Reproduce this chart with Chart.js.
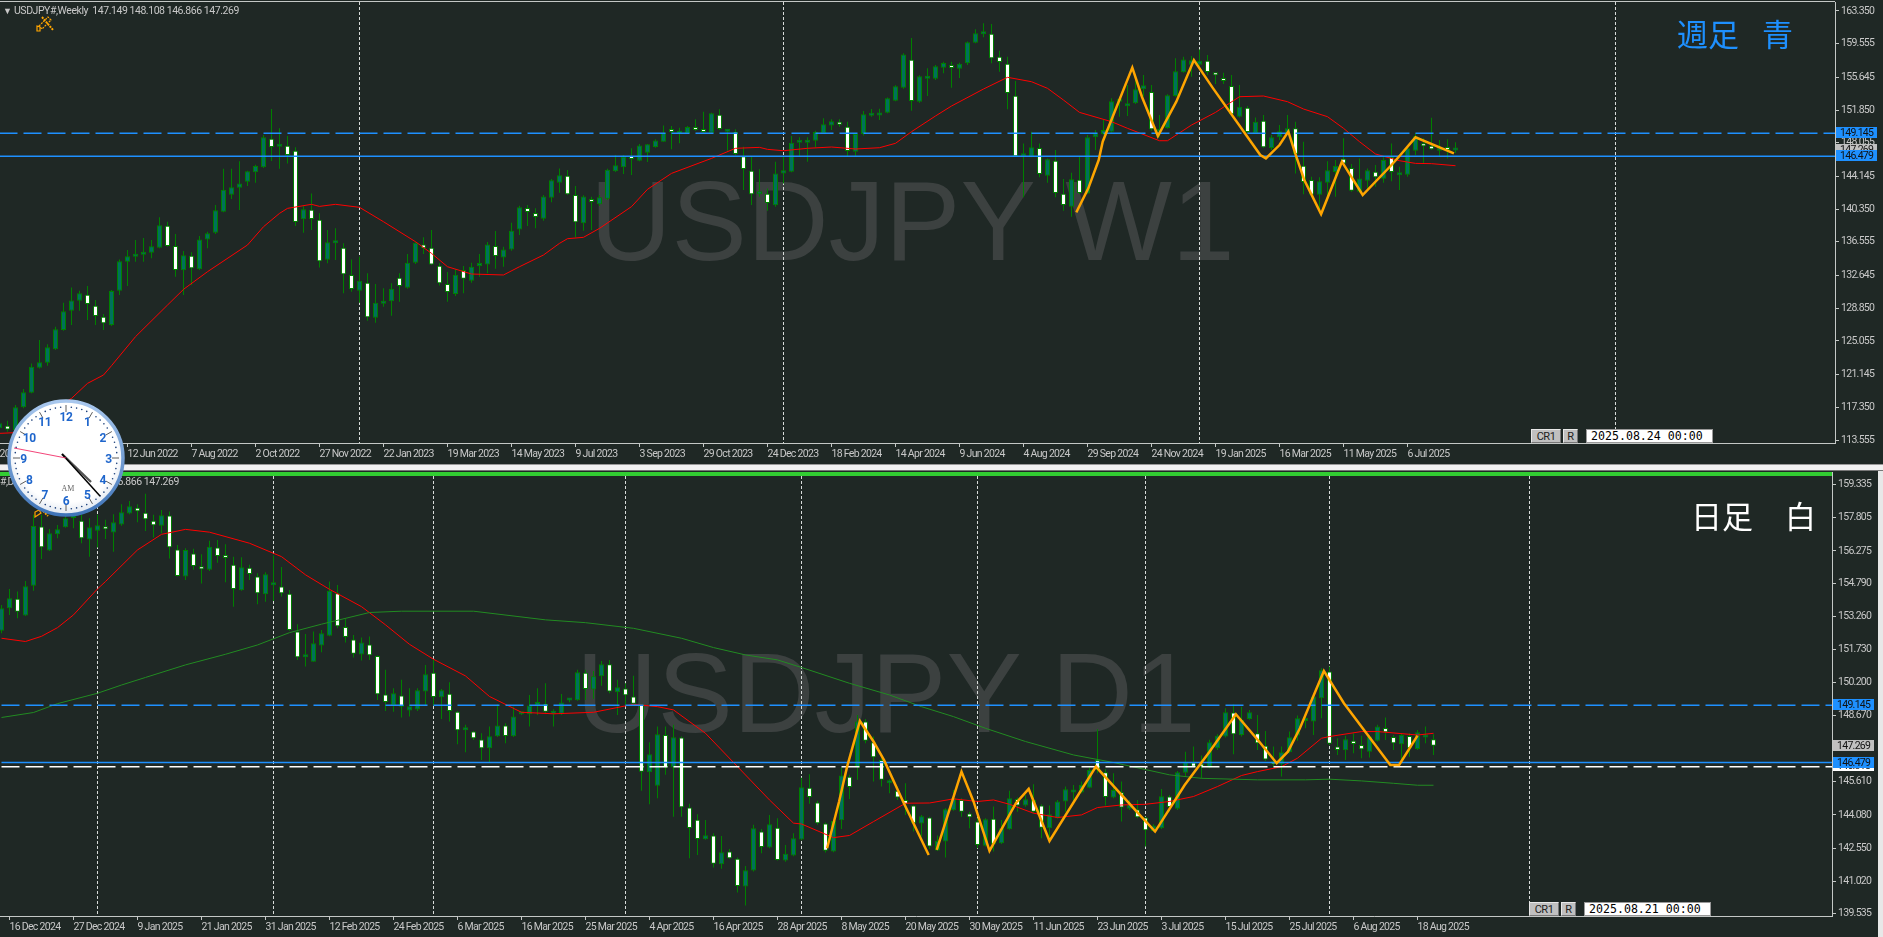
<!DOCTYPE html>
<html>
<head>
<meta charset="utf-8">
<style>
  html, body { margin: 0; padding: 0; width: 1883px; height: 937px; overflow: hidden; background: #1f2825; }
  canvas { position: absolute; left: 0; z-index: 1; }
  .t { position: absolute; white-space: pre; z-index: 2; font: 10.5px Roboto, sans-serif; letter-spacing: -0.7px; color: #c8c8c8; }
  .mark { position: absolute; white-space: pre; z-index: 0; font: 113px/113px 'Liberation Sans', Arial, sans-serif; color: #3c4140; }
  .jp { position: absolute; white-space: pre; z-index: 2; font: 31px/36px 'Noto Sans CJK JP', sans-serif; }
  .btn { position: absolute; z-index: 2; height: 14px; background: #c0c0c0; color: #222; text-align: center; font: 11px/14px Roboto, sans-serif; letter-spacing: -0.5px; box-sizing: border-box; border: 1px solid #e8e8e8; border-right-color: #777; border-bottom-color: #777; }
  .date { position: absolute; z-index: 2; height: 14px; width: 127px; background: #fff; color: #000; box-sizing: border-box; padding-left: 4px; border: 1px solid #999; font: 11.6px/13px 'DejaVu Sans Mono', monospace; }
  .bar { position: absolute; z-index: 2; }
  svg { position: absolute; z-index: 5; }
</style>
</head>
<body>
<div class="mark" style="left:590px;top:165px">USDJPY W1</div>
<div class="mark" style="left:576px;top:637px">USDJPY D1</div>
<canvas id="weekChart" style="top:0" width="1883" height="465"></canvas>
<canvas id="dayChart" style="top:465px" width="1883" height="472"></canvas>

<div class="bar" style="left:0;top:1px;width:1835px;height:1px;background:#c4c8c6"></div>
<div class="bar" style="left:0;top:464px;width:1883px;height:7px;background:#f2f2f2;border-top:1px solid #9a9a9a;border-bottom:1px solid #777;box-sizing:border-box"></div>
<div class="bar" style="left:0;top:472px;width:1832px;height:4px;background:#32cd32"></div>
<div class="bar" style="left:1878px;top:471px;width:5px;height:466px;background:#e8e8e8"></div>

<div class="t" style="left:3px;top:6px;font-size:9px">▼</div>
<div class="t" style="left:14px;top:4px;letter-spacing:-0.45px">USDJPY#,Weekly  147.149 148.108 146.866 147.269</div>
<div class="t" style="left:-36px;top:475px;letter-spacing:-0.45px">USDJPY#,Daily  147.570 147.800 146.866 147.269</div>
<div class="jp" style="left:1677px;top:15px;color:#1e90ff">週足</div>
<div class="jp" style="left:1762px;top:15px;color:#1e90ff">青</div>
<div class="jp" style="left:1691px;top:497px;color:#fff">日足</div>
<div class="jp" style="left:1785px;top:497px;color:#fff">白</div>

<div class="btn" style="left:1531px;top:429px;width:30px">CR1</div>
<div class="btn" style="left:1563px;top:429px;width:15px">R</div>
<div class="date" style="left:1586px;top:429px">2025.08.24 00:00</div>
<div class="btn" style="left:1529px;top:902px;width:30px">CR1</div>
<div class="btn" style="left:1561px;top:902px;width:15px">R</div>
<div class="date" style="left:1584px;top:902px">2025.08.21 00:00</div>

<svg style="left:36px;top:15px;z-index:2" width="18" height="17" viewBox="0 0 18 17">
  <g stroke="#ffa500" fill="none" stroke-width="1.2">
    <path d="M1 16 L1 11 L4 12 L4 16 Z"/>
    <path d="M3 11 L12 2 L15 5 L6 14 Z" stroke-dasharray="2 1"/>
    <path d="M6 2 L17 15" stroke-dasharray="2 1" stroke-width="2"/>
  </g>
</svg>
<svg style="left:34px;top:509px;z-index:2" width="16" height="9" viewBox="0 0 16 9">
  <g stroke="#ffa500" fill="none" stroke-width="1.2"><path d="M1 8 L1 3 L5 1 L7 4 Z"/><path d="M9 2 L14 7" stroke-dasharray="2 1" stroke-width="2"/></g>
</svg>
<svg id="clock" style="left:0;top:392px" width="132" height="132" viewBox="0 0 132 132"></svg>

<script src="https://cdn.jsdelivr.net/npm/chart.js@4"></script>
<script>
// --- Weekly pane ---
const weeklyOpen = [
  114.91,115.22,114.72,117.35,119.05,121.95,122.53,124.08,126.32,128.57,
  129.73,130.42,129.15,127.87,126.90,130.89,134.25,134.83,135.06,135.30,
  135.88,138.43,136.07,133.25,134.95,133.36,136.84,137.62,140.06,142.03,
  142.84,143.54,144.62,145.20,148.53,147.60,147.71,147.13,139.17,140.29,
  139.13,134.48,136.38,135.88,132.71,130.89,131.81,127.75,129.38,129.65,
  132.40,131.23,134.14,136.26,135.88,133.79,131.66,130.50,133.29,132.05,
  133.75,133.94,136.07,134.75,135.68,138.00,140.48,139.90,139.24,141.68,
  143.42,144.23,141.99,138.70,141.41,140.91,141.56,144.74,145.20,146.28,
  145.97,146.90,147.56,148.18,149.53,149.03,149.18,149.76,149.42,149.22,
  151.31,149.34,149.34,146.48,144.81,142.07,142.14,140.79,144.50,144.70,
  148.06,148.06,148.29,149.15,150.07,150.38,149.92,147.02,149.07,151.20,
  151.23,151.54,152.94,154.45,157.70,152.82,155.49,155.49,156.77,157.00,
  156.65,157.27,159.67,160.64,160.71,158.04,157.23,153.52,146.48,146.44,
  147.44,144.23,145.97,142.14,140.64,143.77,142.18,148.68,149.07,149.34,
  152.82,152.28,152.63,154.25,153.94,149.34,149.76,153.48,156.23,157.12,
  157.12,157.58,156.07,155.57,154.64,151.08,152.12,149.15,150.62,147.44,
  148.68,149.22,149.73,145.39,143.73,142.03,143.42,144.66,146.21,145.12,
  142.38,143.65,144.70,143.88,146.40,144.27,144.35,147.13,147.87,147.71,
  147.13,147.52,147.149];
const weeklyHigh = [
  115.68,115.80,117.62,119.47,122.45,125.16,124.66,126.71,129.49,131.27,
  130.89,131.43,129.80,128.18,130.96,134.52,135.61,136.77,137.00,136.77,
  139.40,138.89,137.46,135.49,135.34,137.23,137.73,140.83,145.05,145.05,
  145.90,144.81,145.51,148.95,151.97,149.73,148.84,147.52,140.71,142.18,
  139.86,137.93,138.12,136.38,134.52,134.83,132.90,131.66,131.16,131.74,
  132.90,135.14,136.57,137.08,137.93,134.06,133.05,133.36,133.75,134.14,
  135.14,136.54,137.81,135.99,138.78,140.75,140.83,140.44,141.99,143.85,
  145.08,144.89,143.03,141.95,141.80,141.99,145.05,146.63,146.63,147.41,
  147.91,147.91,148.45,150.07,150.00,149.80,150.00,150.77,151.66,151.54,
  151.93,149.61,149.61,147.60,146.52,144.97,142.76,145.86,146.44,148.84,
  148.68,148.68,149.45,150.89,150.77,150.77,150.50,149.15,151.74,151.97,
  152.01,153.32,154.72,158.43,160.21,155.88,156.69,157.08,157.46,157.46,
  157.35,159.82,161.22,161.91,161.83,158.74,158.04,155.22,147.98,149.34,
  147.98,146.24,147.21,143.85,144.58,146.44,148.95,149.53,150.69,153.21,
  153.40,154.75,155.34,155.92,154.75,151.27,153.67,157.85,158.04,158.12,
  158.89,158.24,156.19,156.19,155.92,154.75,152.32,151.00,151.27,148.95,
  150.11,151.27,150.50,148.18,144.12,144.04,145.90,146.05,148.57,145.59,
  146.24,145.08,145.47,146.36,147.98,145.28,147.60,149.15,148.57,150.96,
  148.37,148.45,148.108];
const weeklyLow = [
  114.72,114.52,114.72,117.23,118.97,121.87,122.18,124.00,126.24,126.90,
  128.57,127.48,126.90,126.32,126.79,130.38,131.43,134.25,134.25,134.64,
  135.80,135.99,132.51,130.38,131.54,133.29,135.80,137.46,139.98,141.53,
  140.25,143.03,143.42,145.12,145.94,145.05,145.66,138.39,137.62,137.93,
  133.59,134.06,134.45,130.58,130.77,129.49,127.40,127.17,129.03,127.99,
  129.61,131.12,133.98,135.14,133.87,131.50,129.61,130.27,130.58,131.81,
  132.51,132.90,133.44,133.67,135.53,137.35,138.39,138.12,139.01,141.14,
  142.26,141.99,137.08,137.85,137.93,140.71,141.41,144.66,144.43,144.31,
  145.90,145.82,147.48,148.18,147.29,147.99,149.15,149.45,149.15,149.15,
  149.53,147.13,146.63,142.57,140.83,141.80,140.17,140.64,143.34,144.62,
  146.52,145.86,147.52,149.07,149.53,149.92,146.52,146.52,148.91,151.08,
  150.69,151.47,152.86,154.33,151.78,152.71,153.48,155.34,156.11,154.45,
  155.57,157.08,159.59,160.29,157.27,156.30,151.93,146.44,141.72,146.36,
  144.04,143.42,141.72,140.17,139.47,142.11,142.11,147.21,148.95,149.22,
  151.08,151.16,152.55,153.40,149.45,148.76,149.69,153.40,156.19,155.72,
  156.96,155.92,154.87,154.87,151.27,151.00,149.15,149.07,147.44,147.21,
  148.37,149.15,144.50,142.07,141.80,139.86,141.41,141.80,145.35,142.38,
  142.26,142.57,142.96,143.42,143.58,142.57,144.12,146.63,145.66,147.21,
  146.44,146.24,146.866];
const weeklyClose = [
  115.49,114.79,117.35,119.09,122.07,122.57,124.31,126.40,128.49,129.76,
  130.58,129.34,127.95,127.10,130.85,134.29,134.87,135.10,135.22,136.03,
  138.47,136.07,133.29,134.99,133.48,136.84,137.54,140.21,142.61,142.88,
  143.34,144.74,145.35,148.68,147.56,147.75,146.63,138.86,140.33,139.21,
  134.29,136.50,136.61,132.78,131.08,132.05,127.79,129.49,129.73,131.12,
  131.43,134.14,136.46,135.80,133.94,131.74,130.73,132.74,132.28,133.67,
  134.02,136.26,134.91,135.68,137.85,140.56,140.02,139.44,141.83,143.69,
  144.27,142.07,138.82,141.83,141.18,141.72,144.93,145.43,146.44,146.17,
  147.75,147.87,148.33,149.22,149.30,149.45,149.88,149.53,149.30,151.47,
  149.65,149.45,146.75,145.01,142.07,142.38,141.06,144.50,144.85,148.06,
  148.22,148.33,149.30,150.19,150.54,150.15,147.10,149.07,151.35,151.35,
  151.54,153.21,154.60,158.31,152.90,155.76,155.65,156.92,157.31,156.73,
  157.23,159.71,160.75,160.75,157.85,157.42,153.83,146.48,146.63,147.52,
  144.43,146.13,142.22,140.83,143.81,142.22,148.68,149.15,149.53,152.86,
  152.94,152.63,154.25,154.72,149.61,149.61,153.56,156.34,157.73,157.62,
  157.58,156.26,155.88,155.22,151.35,152.24,149.30,150.50,147.52,148.68,
  149.38,149.73,146.75,143.50,142.03,143.58,144.85,145.35,145.66,142.49,
  143.92,144.85,144.04,146.05,144.66,144.43,147.41,148.80,147.64,147.29,
  147.48,147.21,147.269];
const weeklyMaX = [0,2,9,11,13,14,17,21,23,26,31,33,35,36,39,40,42,45,48,52,54,56,59,63,65,68,70,71,73,75,79,81,84,89,92,95,96,98,101,104,107,110,112,114,117,119,123,126,129,131,133,135,139,141,145,146,149,152,155,158,161,163,166,168,170,172,175,177,179,182];
const weeklyMaY = [114.33,114.41,118.39,120.13,121.10,122.18,125.55,129.22,131.04,133.09,136.19,138.31,139.86,140.44,140.91,140.67,140.91,140.56,138.89,136.57,135.22,133.67,132.82,132.71,133.67,135.03,136.38,136.92,137.08,138.12,140.64,142.65,144.50,146.24,147.41,147.52,147.29,147.13,147.41,147.56,147.33,147.48,147.99,149.34,151.16,152.32,154.29,155.65,155.14,154.37,153.01,151.58,150.50,149.73,148.29,148.29,150.11,151.58,153.40,153.48,152.82,151.97,151.08,149.73,148.18,146.75,145.97,145.66,145.63,145.39];
const weeklyZigX = [134.6,136.1,137.4,137.9,141.6,142.8,144.8,147.1,149.3,151.7,157.6,158.3,160,161.1,162.1,163.1,165.2,167.8,170.4,174,175,177,181.8];
const weeklyZigY = [139.98,142.76,146.05,148.18,156.77,153.40,148.84,152.82,157.66,154.37,146.63,146.24,147.79,149.34,146.44,143.73,139.78,145.86,141.99,145.47,146.52,148.68,146.83];
const weeklyDates = ['20 Feb 2022','17 Apr 2022','12 Jun 2022','7 Aug 2022','2 Oct 2022','27 Nov 2022','22 Jan 2023','19 Mar 2023','14 May 2023','9 Jul 2023','3 Sep 2023','29 Oct 2023','24 Dec 2023','18 Feb 2024','14 Apr 2024','9 Jun 2024','4 Aug 2024','29 Sep 2024','24 Nov 2024','19 Jan 2025','16 Mar 2025','11 May 2025','6 Jul 2025'];
const weeklyPrices = [163.35,159.555,155.645,151.85,148.055,144.145,140.35,136.555,132.645,128.85,125.055,121.145,117.35,113.555];
const weeklySeparators = [45,98,150,202];

// --- Daily pane ---
const dailyOpen = [
  152.59,153.63,154.07,153.29,154.67,157.40,156.29,157.04,157.37,157.80,
  157.67,156.80,157.21,157.40,157.12,157.49,158.00,158.27,158.04,157.67,
  157.44,157.91,156.34,155.09,156.15,155.50,155.40,156.43,156.01,155.64,
  154.46,155.50,155.09,154.27,154.69,154.63,154.30,152.55,151.36,151.16,
  151.90,152.36,154.32,152.76,152.18,151.49,151.95,151.42,149.64,149.16,
  149.59,148.90,148.95,149.78,150.65,149.52,149.68,148.85,147.99,147.93,
  147.56,147.16,147.71,148.21,147.71,148.73,148.73,149.16,149.22,148.75,
  148.75,149.36,149.38,150.65,149.87,150.48,151.04,149.75,149.92,149.55,
  149.19,146.05,145.43,147.77,146.27,147.65,144.42,143.86,142.95,143.13,
  141.80,142.39,142.06,140.77,141.51,143.31,142.57,143.49,141.97,142.20,
  142.94,145.34,144.65,143.68,142.39,143.83,145.84,146.27,148.39,147.44,
  146.62,145.54,145.19,144.77,144.51,143.68,143.96,142.43,142.85,144.30,
  144.77,144.14,143.77,142.66,143.90,142.77,143.42,144.82,144.51,144.77,
  144.51,143.46,143.93,144.70,145.11,145.11,145.34,146.62,146.05,144.88,
  145.13,144.36,144.33,143.96,143.34,143.46,144.93,144.36,146.03,146.50,
  146.39,146.27,147.16,147.70,148.81,147.77,148.51,147.85,147.28,146.50,
  146.42,146.97,147.75,148.42,148.39,149.47,150.70,147.24,147.07,147.51,
  147.31,147.00,147.51,148.10,147.68,147.34,147.73,147.13,147.65,147.57];
const dailyHigh = [
  153.78,154.52,154.40,154.89,157.94,157.94,157.29,157.47,158.40,157.94,
  157.94,157.78,157.94,157.71,157.97,158.43,158.58,158.43,158.91,157.94,
  158.17,158.09,156.55,156.40,156.37,156.12,156.74,156.78,156.58,156.01,
  155.98,155.63,155.24,155.29,156.06,155.53,154.47,152.89,152.44,152.55,
  152.62,154.86,154.70,153.13,152.39,152.27,152.32,151.44,150.78,149.93,
  150.32,149.93,149.93,151.01,151.24,149.90,150.21,148.88,148.24,147.96,
  147.85,148.16,149.19,148.31,149.08,148.85,149.62,149.93,150.16,148.96,
  149.67,149.47,150.78,150.78,150.73,151.19,151.24,150.32,150.16,150.51,
  149.22,147.44,148.16,148.16,148.24,147.70,144.59,144.11,143.85,143.23,
  143.11,142.51,142.11,141.72,143.62,143.43,144.08,143.93,142.69,143.23,
  145.80,145.96,144.73,143.73,143.85,146.27,145.93,148.70,148.51,147.70,
  146.70,145.73,145.39,145.54,144.54,144.08,144.00,143.13,144.39,145.23,
  144.85,144.23,143.93,143.93,144.47,143.85,145.19,144.88,145.00,145.50,
  144.57,144.51,144.77,145.39,145.46,145.62,146.27,148.04,146.20,146.00,
  145.62,144.77,144.77,144.00,143.65,145.28,145.00,146.11,147.00,147.24,
  146.82,147.55,147.81,149.01,149.19,149.08,148.93,148.70,147.96,147.24,
  147.24,147.93,148.67,148.78,149.62,150.85,150.93,147.62,147.74,147.85,
  147.74,147.77,148.24,148.58,147.77,147.85,147.85,148.00,148.16,147.80];
const dailyLow = [
  152.47,153.32,153.16,153.27,154.43,155.90,156.27,156.86,157.35,157.32,
  156.63,156.01,156.43,156.83,156.24,157.44,157.97,157.60,157.20,156.89,
  157.09,155.93,155.09,154.93,155.40,154.77,155.35,155.73,154.83,153.70,
  154.43,154.93,153.81,153.93,153.96,154.17,152.59,151.24,150.93,151.16,
  151.59,152.33,152.70,152.04,151.35,151.21,151.24,149.39,148.88,148.85,
  148.58,148.62,148.88,149.13,149.13,148.51,148.39,147.34,146.97,147.54,
  146.62,146.51,147.68,147.39,147.68,148.70,148.16,148.70,148.77,148.16,
  148.70,149.28,149.35,149.39,149.44,150.05,149.70,148.70,149.16,149.16,
  145.19,144.57,144.85,145.93,144.00,144.00,142.08,142.23,142.93,141.65,
  141.59,142.05,140.49,139.89,141.46,142.31,142.54,141.97,141.92,142.17,
  142.91,144.60,143.62,142.34,142.36,143.43,144.82,145.70,147.39,145.62,
  145.39,145.08,144.77,144.08,143.31,143.08,142.51,142.42,142.11,144.27,
  144.00,143.46,142.54,142.62,142.39,142.74,143.39,144.23,144.46,144.16,
  143.00,143.00,143.90,144.23,144.70,145.08,145.31,146.00,144.51,144.85,
  143.77,144.31,143.93,142.62,143.31,143.43,144.23,144.31,145.85,146.27,
  145.77,146.24,147.08,147.65,146.88,147.70,148.47,147.08,146.57,146.31,
  145.85,146.93,147.50,148.08,147.77,148.55,147.31,146.85,146.62,146.93,
  146.70,146.73,147.47,147.54,147.08,146.62,146.77,147.08,147.39,146.85];
const dailyClose = [
  153.63,154.09,153.46,154.64,157.43,156.44,157.09,157.27,157.78,157.86,
  156.86,157.37,157.46,157.27,157.60,158.06,158.34,158.11,157.74,157.46,
  157.92,156.44,155.12,156.32,155.58,155.43,156.47,156.04,155.95,154.52,
  155.52,155.21,154.32,155.20,154.73,154.32,152.62,151.36,151.41,152.01,
  152.47,154.43,152.80,152.30,151.52,152.04,151.45,149.65,149.30,149.70,
  149.08,149.10,149.84,150.58,149.53,149.84,148.88,147.99,148.05,147.62,
  147.16,147.71,148.21,147.73,148.62,148.79,149.13,149.22,148.84,148.81,
  149.27,149.39,150.67,149.90,150.48,151.04,149.78,149.98,149.61,149.22,
  146.07,146.88,147.81,146.27,147.67,144.43,143.48,142.97,143.14,141.82,
  142.36,142.08,140.80,141.52,143.46,142.60,143.65,142.00,142.28,143.00,
  145.36,144.91,143.70,142.42,143.80,145.90,145.37,148.39,147.50,146.74,
  145.70,145.67,144.88,144.57,143.70,144.02,142.62,142.88,144.34,144.85,
  144.22,143.97,142.69,143.88,142.72,143.46,144.85,144.51,144.80,144.23,
  143.49,144.11,144.70,145.27,145.17,145.46,146.16,146.16,144.91,145.23,
  144.42,144.57,143.97,143.37,143.59,144.94,144.45,146.05,146.54,146.31,
  146.30,147.44,147.74,148.82,147.81,148.47,148.82,147.39,146.64,146.42,
  146.97,147.67,148.55,148.47,149.55,150.76,147.37,147.08,147.58,147.36,
  147.11,147.70,148.16,147.90,147.39,147.77,147.16,147.90,147.71,147.269];
const dailyMaX = [0,3,5,7,9,12,13,17,20,23,26,31,35,38,41,45,48,51,54,58,61,65,69,74,79,82,84,88,92,96,99,100,104,106,109,113,116,119,122,124,126,129,132,135,137,140,143,146,149,152,155,157,160,162,165,166,170,172,177,179];
const dailyMaY = [152.24,152.09,152.33,152.73,153.32,154.52,154.86,156.32,157.04,157.27,157.14,156.63,156.01,155.17,154.50,153.70,152.86,151.96,151.27,150.50,149.55,148.82,148.75,148.82,149.19,149.08,148.93,147.85,146.31,144.77,143.70,143.66,143.03,143.13,143.77,144.62,144.63,144.82,144.70,144.77,144.57,144.16,143.96,144.08,144.42,144.54,144.57,144.70,144.93,145.39,145.90,146.08,146.31,146.70,147.62,147.70,147.93,147.93,147.77,147.85];
const dailyLongMaX = [0,4,7,12,15,18,23,28,32,36,40,46,50,59,68,73,79,85,89,93,97,100,106,111,115,119,123,128,134,139,146,150,157,163,166,170,174,177,179];
const dailyLongMaY = [148.58,148.81,149.22,149.70,150.08,150.43,151.01,151.50,151.93,152.50,152.89,153.43,153.49,153.49,153.09,152.96,152.70,152.24,151.81,151.47,151.24,150.89,150.16,149.62,149.08,148.62,148.08,147.47,146.85,146.50,145.93,145.77,145.70,145.70,145.73,145.65,145.54,145.45,145.45];
const dailyZigX = [103.2,104.7,105.7,107.3,109,110.3,112.8,115.9,116.4,116.9,117.5,120,121.5,123.5,126.8,128.4,131,136.8,141.9,144.2,147.9,151,154.3,157.2,159.4,160.8,162.3,165.3,167.8,173.6,174.7,177];
const dailyZigY = [142.54,144.70,146.31,148.42,147.47,146.62,144.62,142.23,null,142.46,143.16,146.08,144.70,142.42,144.62,145.28,142.88,146.31,144.23,143.31,145.46,147.00,148.73,147.47,146.47,147.00,148.08,150.73,149.24,146.39,146.39,147.74];
const dailyDates = ['16 Dec 2024','27 Dec 2024','9 Jan 2025','21 Jan 2025','31 Jan 2025','12 Feb 2025','24 Feb 2025','6 Mar 2025','16 Mar 2025','25 Mar 2025','4 Apr 2025','16 Apr 2025','28 Apr 2025','8 May 2025','20 May 2025','30 May 2025','11 Jun 2025','23 Jun 2025','3 Jul 2025','15 Jul 2025','25 Jul 2025','6 Aug 2025','18 Aug 2025'];
const dailyPrices = [159.335,157.805,156.275,154.79,153.26,151.73,150.2,148.67,147.14,145.61,144.08,142.55,141.02,139.535];
const dailySeparators = [12,34,54,78,100,122,143,166,191];

const BLUE = '#1e90ff';
const LABEL_FONT = 'Roboto, sans-serif';

function xy(xs, ys) {
  return xs.map((x, i) => ({ x: x, y: ys[i] }));
}

function candleDatasets(open, high, low, close) {
  const base = { grouped: false, inflateAmount: 0, borderSkipped: false };
  return [
    Object.assign({}, base, {
      label: 'wick',
      order: 6,
      barThickness: 1,
      backgroundColor: '#008000',
      data: high.map((h, i) => ({ x: i, y: [low[i], h] })),
    }),
    Object.assign({}, base, {
      label: 'body',
      order: 5,
      barThickness: 5,
      minBarLength: 3,
      borderWidth: 1,
      borderColor: '#008000',
      backgroundColor: open.map((o, i) => (close[i] >= o ? '#00705c' : '#ffffff')),
      data: open.map((o, i) => ({ x: i, y: [o, close[i]] })),
    }),
  ];
}

function lineDataset(label, data, color, width, order, dash) {
  return {
    type: 'line',
    label: label,
    data: data,
    borderColor: color,
    borderWidth: width,
    borderDash: dash || [],
    pointRadius: 0,
    tension: 0,
    order: order,
  };
}

function hLine(label, price, xMin, xMax, color, width, dash) {
  return lineDataset(label, [{ x: xMin, y: price }, { x: xMax, y: price }], color, width, 2, dash);
}

function priceChart(cfg) {
  const paneDecor = {
    id: 'paneDecor',
    beforeDraw(chart) {
      // MT4 labels are narrower than anything installed
      chart.ctx.letterSpacing = '-0.7px';
    },
    beforeDatasetsDraw(chart) {
      const { ctx, chartArea, scales } = chart;
      ctx.save();
      ctx.strokeStyle = '#d8dcda';
      ctx.lineWidth = 1;
      ctx.setLineDash([3, 2]);
      cfg.separators.forEach((s) => {
        const px = scales.x.getPixelForValue(s);
        ctx.beginPath();
        ctx.moveTo(px, chartArea.top + cfg.sepInset);
        ctx.lineTo(px, chartArea.bottom);
        ctx.stroke();
      });
      ctx.restore();
    },
    afterDraw(chart) {
      const { ctx, chartArea, scales } = chart;
      ctx.save();
      ctx.font = '10.5px ' + LABEL_FONT;
      ctx.textBaseline = 'middle';
      cfg.boxes.forEach((b) => {
        const y = scales.y.getPixelForValue(b.price);
        ctx.fillStyle = b.bg;
        ctx.fillRect(chartArea.right + 1, Math.round(y) - 6, 41, 11);
        ctx.fillStyle = '#111';
        ctx.fillText(b.text, chartArea.right + 5, Math.round(y));
      });
      ctx.restore();
    },
  };

  return new Chart(document.getElementById(cfg.id), {
    type: 'bar',
    data: { datasets: cfg.datasets },
    plugins: [paneDecor],
    options: {
      responsive: false,
      animation: false,
      events: [],
      layout: { padding: { top: cfg.top, left: 0, right: 0, bottom: 0 } },
      plugins: { legend: { display: false }, tooltip: { enabled: false } },
      scales: {
        x: {
          type: 'linear',
          offset: false,
          min: cfg.xMin,
          max: cfg.xMax,
          afterBuildTicks: (scale) => {
            scale.ticks = cfg.dates.map((d, i) => ({ value: cfg.firstTick + i * 8 }));
          },
          afterFit: (scale) => {
            scale.height = cfg.axisHeight;
            scale.paddingLeft = 0;
            scale.paddingRight = 0;
          },
          grid: { display: true, drawOnChartArea: false, offset: false, tickLength: 4, tickColor: '#c4c8c6' },
          border: { color: '#c4c8c6', width: 1 },
          ticks: {
            autoSkip: false,
            maxRotation: 0,
            align: 'start',
            padding: 1,
            color: '#c8c8c8',
            font: { family: LABEL_FONT, size: 10.5 },
            callback: (v, i) => cfg.dates[i],
          },
        },
        y: {
          position: 'right',
          min: cfg.yMin,
          max: cfg.yMax,
          afterBuildTicks: (scale) => {
            scale.ticks = cfg.prices.map((p) => ({ value: p }));
          },
          afterFit: (scale) => {
            scale.width = 1883 - cfg.axisX;
            scale.paddingTop = 0;
            scale.paddingBottom = 0;
          },
          grid: { display: true, drawOnChartArea: false, tickLength: 4, tickColor: '#c4c8c6' },
          border: { color: '#c4c8c6', width: 1 },
          ticks: {
            autoSkip: false,
            padding: 2,
            color: '#c8c8c8',
            font: { family: LABEL_FONT, size: 10.5 },
            callback: (v) => v.toFixed(3),
          },
        },
      },
    },
  });
}

// --- Weekly chart ---
priceChart({
  id: 'weekChart',
  top: 2,
  sepInset: 0,
  axisHeight: 22,
  axisX: 1835,
  xMin: 0.0625,
  xMax: 229.4375,
  yMin: 113.21,
  yMax: 164.39,
  firstTick: 0,
  dates: weeklyDates,
  prices: weeklyPrices,
  separators: weeklySeparators,
  boxes: [
    { price: 147.269, text: '147.269', bg: '#c0c0c0' },
    { price: 149.145, text: '149.145', bg: BLUE },
    { price: 146.479, text: '146.479', bg: BLUE },
  ],
  datasets: candleDatasets(weeklyOpen, weeklyHigh, weeklyLow, weeklyClose).concat([
    lineDataset('ma', xy(weeklyMaX, weeklyMaY), '#ff0000', 1, 3),
    hLine('resistance', 149.145, 0, 230, BLUE, 1.5, [18, 6]),
    hLine('support', 146.479, 0, 230, BLUE, 1.5),
    lineDataset('zigzag', xy(weeklyZigX, weeklyZigY), '#ffa500', 2.5, 1),
  ]),
});

// --- Daily chart ---
priceChart({
  id: 'dayChart',
  top: 7,
  sepInset: 4,
  axisHeight: 21,
  axisX: 1832,
  xMin: -0.1875,
  xMax: 228.8125,
  yMin: 139.41,
  yMax: 159.92,
  firstTick: 1,
  dates: dailyDates,
  prices: dailyPrices,
  separators: dailySeparators,
  boxes: [
    { price: 147.269, text: '147.269', bg: '#c0c0c0' },
    { price: 146.318, text: '146.318', bg: '#ffffff' },
    { price: 149.145, text: '149.145', bg: BLUE },
    { price: 146.479, text: '146.479', bg: BLUE },
  ],
  datasets: candleDatasets(dailyOpen, dailyHigh, dailyLow, dailyClose).concat([
    lineDataset('ma-long', xy(dailyLongMaX, dailyLongMaY), '#228b22', 1, 3),
    lineDataset('ma', xy(dailyMaX, dailyMaY), '#ff0000', 1, 3),
    hLine('resistance', 149.145, 0, 230, BLUE, 1.5, [18, 6]),
    hLine('support-2', 146.30, 0, 230, '#ffffff', 1.5, [18, 6]),
    hLine('support', 146.50, 0, 230, BLUE, 1.5),
    lineDataset('zigzag', xy(dailyZigX, dailyZigY), '#ffa500', 2.5, 1),
  ]),
});

// --- Desktop clock widget over the two panes ---
(function drawClock() {
  const c = 66;
  let s = '<defs><radialGradient id="face" cx="50%" cy="45%" r="55%"><stop offset="80%" stop-color="#ffffff"/><stop offset="100%" stop-color="#dfe6f0"/></radialGradient>' +
    '<linearGradient id="ring" x1="0" y1="0" x2="0" y2="1"><stop offset="0%" stop-color="#a9c8ee"/><stop offset="100%" stop-color="#3f74b8"/></linearGradient></defs>';
  s += `<circle cx="${c}" cy="${c}" r="57" fill="url(#face)" stroke="url(#ring)" stroke-width="3.5"/>`;
  for (let m = 0; m < 60; m++) {
    const a = (m * 6 * Math.PI) / 180;
    const sx = Math.sin(a), cy = -Math.cos(a);
    if (m % 5 === 0) {
      s += `<line x1="${c + sx * 46}" y1="${c + cy * 46}" x2="${c + sx * 53}" y2="${c + cy * 53}" stroke="#333" stroke-width="0.8"/>`;
    } else {
      s += `<circle cx="${c + sx * 51}" cy="${c + cy * 51}" r="0.8" fill="#1b3f7a"/>`;
    }
  }
  for (let h = 1; h <= 12; h++) {
    const a = (h * 30 * Math.PI) / 180;
    s += `<text x="${c + Math.sin(a) * 42.5}" y="${c - Math.cos(a) * 42 + 4.5}" text-anchor="middle" font-family="Roboto, sans-serif" font-size="12" font-weight="bold" letter-spacing="-0.5" fill="#1f66cc">${h}</text>`;
  }
  s += `<text x="${c + 2}" y="${c + 33}" text-anchor="middle" font-family="Liberation Serif, serif" font-size="8" fill="#666">AM</text>`;
  s += `<line x1="${c - 4}" y1="${c - 4}" x2="${c + 25}" y2="${c + 24}" stroke="#555" stroke-width="2.4"/>`;
  s += `<line x1="${c - 4}" y1="${c - 4}" x2="${c + 34}" y2="${c + 38}" stroke="#000" stroke-width="1.5"/>`;
  s += `<line x1="${c}" y1="${c}" x2="${c - 52}" y2="${c - 10}" stroke="#f0306a" stroke-width="0.9"/>`;
  document.getElementById('clock').innerHTML = s;
})();
</script>
</body>
</html>
